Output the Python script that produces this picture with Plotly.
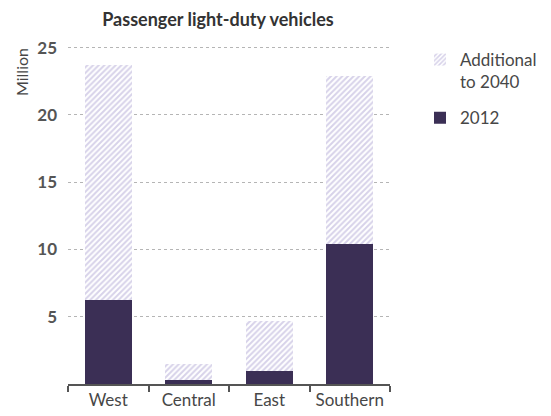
import plotly.graph_objects as go

regions = ["West", "Central", "East", "Southern"]
base_2012 = [6.25, 0.28, 1.0, 10.4]
additional_2040 = [17.45, 1.22, 3.72, 12.5]
y_ticks = [5, 10, 15, 20, 25]

dark = "#3b2f55"
lav = "#b0a6d4"
txt = "#474747"
font = "Lato"

fig = go.Figure()
fig.add_trace(go.Bar(
    x=regions, y=base_2012, name="2012", legendgroup="g2012", legendrank=2,
    marker=dict(color=dark, line=dict(width=0)),
    width=0.58,
))
fig.add_trace(go.Bar(
    x=regions, y=additional_2040, name="Additional<br>to 2040", legendgroup="gadd", legendrank=1,
    marker=dict(color="white", line=dict(width=0),
                pattern=dict(shape="/", fgcolor=lav, bgcolor="white", size=4, solidity=0.5)),
    width=0.58,
))

plot_l, plot_r, plot_t, plot_b = 68, 161, 45, 32
plot_w = 551 - plot_l - plot_r
plot_h = 416 - plot_t - plot_b

fig.update_layout(
    width=551, height=416,
    barmode="stack",
    paper_bgcolor="white", plot_bgcolor="white",
    margin=dict(l=plot_l, r=plot_r, t=plot_t, b=plot_b, autoexpand=False),
    font=dict(family=font, color=txt, size=14),
    title=dict(text="<b>Passenger light-duty vehicles</b>", x=218/551, xanchor="center",
               y=1 - 20/416, yanchor="middle", font=dict(size=18, color="#333333", family=font)),
    showlegend=True,
    legend=dict(traceorder="grouped", x=(420 - plot_l) / plot_w, xanchor="left",
                y=1 + 3/plot_h, yanchor="top",
                font=dict(size=17, color=txt, family=font), tracegroupgap=11,
                itemwidth=30, valign="top"),
    annotations=[dict(text="Million", textangle=-90,
                      x=(21 - plot_l) / plot_w, xref="paper",
                      y=(416 - plot_b - 72) / plot_h, yref="paper",
                      showarrow=False, font=dict(size=16, color=txt, family=font),
                      xanchor="center", yanchor="middle")],
)

fig.update_xaxes(
    showline=True, linecolor="#555555", linewidth=1.5,
    ticks="outside", tickson="boundaries", ticklen=6, tickcolor="#555555", tickwidth=1.5,
    tickfont=dict(size=17, color=txt), tickangle=0,
    showgrid=False, automargin=False,
)
fig.update_yaxes(
    range=[0, 25.2], tickvals=y_ticks,
    showgrid=True, gridcolor="#b5b5b5", griddash="dot", gridwidth=1,
    showline=False, zeroline=False,
    tickfont=dict(size=17, color="#555555", weight="bold"),
    ticks="", ticklabelstandoff=10, automargin=False,
)
fig.write_html("out.html", config={"displayModeBar": False},
               post_script="document.body.style.margin='0';document.body.style.overflow='hidden';")
